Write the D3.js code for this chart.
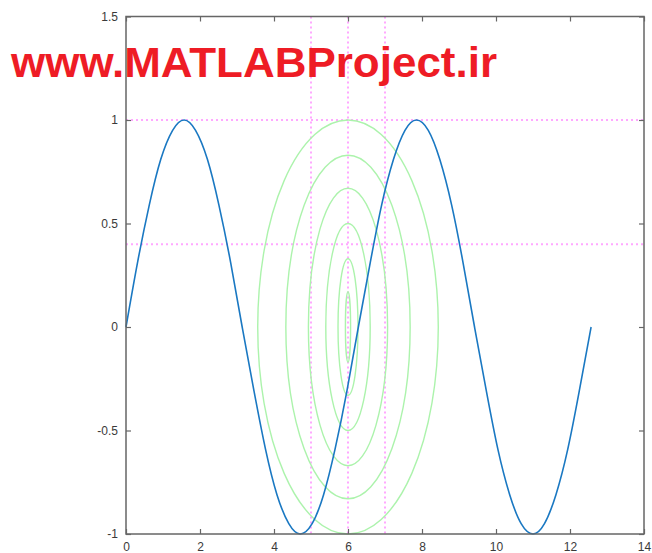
<!DOCTYPE html>
<html>
<head>
<meta charset="utf-8">
<script src="https://cdn.jsdelivr.net/npm/d3@7"></script>
<style>
  html, body { margin: 0; padding: 0; background: #fff; }
  svg { display: block; }
</style>
</head>
<body>
<svg id="chart" width="652" height="553"></svg>
<script>
// Sine curve samples (x, y)
const curveX = [0, 0.31, 0.63, 0.94, 1.26, 1.57, 1.88, 2.2, 2.51, 2.83, 3.14,
  3.46, 3.77, 4.08, 4.4, 4.71, 5.03, 5.34, 5.65, 5.97, 6.28,
  6.6, 6.91, 7.23, 7.54, 7.85, 8.17, 8.48, 8.8, 9.11, 9.42,
  9.74, 10.05, 10.37, 10.68, 11.0, 11.31, 11.62, 11.94, 12.25, 12.57];
const curveY = [0, 0.31, 0.59, 0.81, 0.95, 1, 0.95, 0.81, 0.59, 0.31, 0,
  -0.31, -0.59, -0.81, -0.95, -1, -0.95, -0.81, -0.59, -0.31, 0,
  0.31, 0.59, 0.81, 0.95, 1, 0.95, 0.81, 0.59, 0.31, 0,
  -0.31, -0.59, -0.81, -0.95, -1, -0.95, -0.81, -0.59, -0.31, 0];

// Concentric ellipses centred at (6, 0): horizontal and vertical semi-axes
const ellipseCx = 6;
const ellipseCy = 0;
const ellipseRx = [2.44, 1.68, 1.07, 0.6, 0.27, 0.07];
const ellipseRy = [1, 0.83, 0.67, 0.5, 0.33, 0.17];

// Dotted reference lines
const gridX = [5, 6, 7];
const gridY = [0.4, 1];

// Axis ticks
const xTicks = [0, 2, 4, 6, 8, 10, 12, 14];
const yTicks = [-1, -0.5, 0, 0.5, 1, 1.5];
const xDomain = [0, 14];
const yDomain = [-1, 1.5];

const watermark = "www.MATLABProject.ir";

(function draw() {
  const svg = d3.select("#chart");
  const pl = 126, pr = 644, pt = 16.5, pb = 534;

  const x = d3.scaleLinear().domain(xDomain).range([pl, pr]);
  const y = d3.scaleLinear().domain(yDomain).range([pb, pt]);

  // grid lines
  const grid = svg.append("g")
    .attr("stroke", "#ffa8ff").attr("stroke-width", 2)
    .attr("stroke-dasharray", "2,3").attr("fill", "none");
  grid.selectAll("line.gx").data(gridX).join("line").attr("class", "gx")
    .attr("x1", d => x(d)).attr("x2", d => x(d))
    .attr("y1", pt).attr("y2", pb);
  grid.selectAll("line.gy").data(gridY).join("line").attr("class", "gy")
    .attr("x1", pl).attr("x2", pr)
    .attr("y1", d => y(d)).attr("y2", d => y(d));

  // ellipses
  svg.append("g").selectAll("ellipse")
    .data(ellipseRx.map((rx, i) => ({ rx, ry: ellipseRy[i] })))
    .join("ellipse")
    .attr("cx", x(ellipseCx)).attr("cy", y(ellipseCy))
    .attr("rx", d => x(ellipseCx + d.rx) - x(ellipseCx))
    .attr("ry", d => y(ellipseCy) - y(ellipseCy + d.ry))
    .attr("fill", "none").attr("stroke", "#acf3ac").attr("stroke-width", 1.4);

  // sine curve
  const pts = curveX.map((v, i) => [v, curveY[i]]);
  svg.append("path")
    .datum(pts)
    .attr("fill", "none").attr("stroke", "#1a78c2").attr("stroke-width", 1.6)
    .attr("d", d3.line().x(d => x(d[0])).y(d => y(d[1])).curve(d3.curveNatural));

  // axes (box with inward ticks)
  const axisColor = "#666";
  const tickLen = 5;
  svg.append("rect").attr("x", pl).attr("y", pt)
    .attr("width", pr - pl).attr("height", pb - pt)
    .attr("fill", "none").attr("stroke", axisColor).attr("stroke-width", 1.5);

  const gB = svg.append("g").attr("transform", `translate(0,${pb})`)
    .call(d3.axisBottom(x).tickValues(xTicks).tickSizeInner(-tickLen).tickSizeOuter(0).tickPadding(8).tickFormat(d3.format("d")));
  const gT = svg.append("g").attr("transform", `translate(0,${pt})`)
    .call(d3.axisTop(x).tickValues(xTicks).tickSizeInner(-tickLen).tickSizeOuter(0).tickFormat(""));
  const gL = svg.append("g").attr("transform", `translate(${pl},0)`)
    .call(d3.axisLeft(y).tickValues(yTicks).tickSizeInner(-tickLen).tickSizeOuter(0).tickPadding(8).tickFormat(d => String(d)));
  const gR = svg.append("g").attr("transform", `translate(${pr},0)`)
    .call(d3.axisRight(y).tickValues(yTicks).tickSizeInner(-tickLen).tickSizeOuter(0).tickFormat(""));

  [gB, gT, gL, gR].forEach(g => {
    g.select(".domain").remove();
    g.selectAll(".tick line").attr("stroke", axisColor).attr("stroke-width", 1.2);
    g.selectAll(".tick text").attr("fill", "#3a3a3a")
      .style("font-family", '"Liberation Sans", Arial, sans-serif').style("font-size", "12px");
  });
  gB.selectAll(".tick text").attr("y", 8);

  // watermark text
  svg.append("text")
    .attr("x", 11).attr("y", 77)
    .attr("textLength", 486).attr("lengthAdjust", "spacingAndGlyphs")
    .style("font-family", '"Liberation Sans", Arial, sans-serif')
    .style("font-weight", "bold").style("font-size", "43px")
    .attr("fill", "#ee1c25")
    .text(watermark);
})();
</script>
</body>
</html>
